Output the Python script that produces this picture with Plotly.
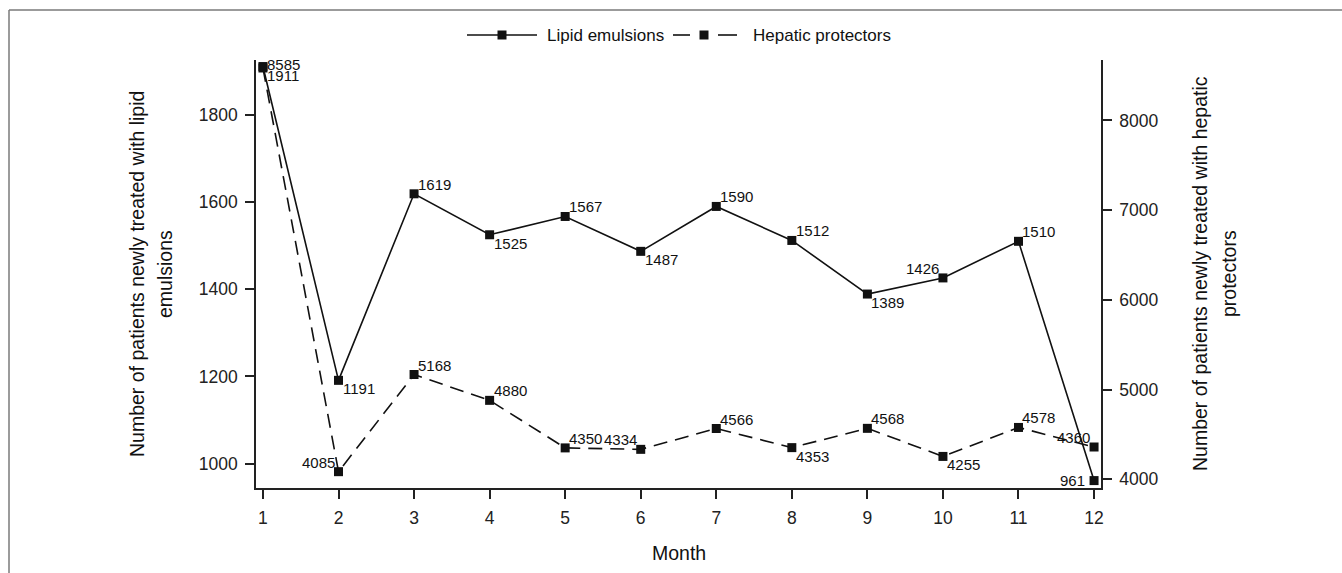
import plotly.graph_objects as go

months = list(range(1, 13))
lipid = [1911, 1191, 1619, 1525, 1567, 1487, 1590, 1512, 1389, 1426, 1510, 961]
hepatic = [8585, 4085, 5168, 4880, 4350, 4334, 4566, 4353, 4568, 4255, 4578, 4360]
series_names = ["Lipid emulsions", "Hepatic protectors"]

# label placement (style only)
lipid_pos = ["r", "br", "tr", "br", "tr", "br", "tr", "tr", "br", "tl", "tr", "l"]
hep_pos = ["tr", "tl", "tr", "tr", "tr", "tl", "tr", "br", "tr", "br", "tr", "tl"]

W, H = 1342, 573
L, R, T, B = 256, 1101, 60, 488
PW, PH = R - L, B - T
FONT = "Liberation Sans, Arial, sans-serif"
INK = "#111111"

def px(x):
    return (x - L) / PW

def py(y):
    return (B - y) / PH

fig = go.Figure()
fig.add_trace(go.Scatter(
    x=months, y=lipid, name=series_names[0], mode="lines+markers",
    line=dict(color=INK, width=1.6),
    marker=dict(symbol="square", size=9, color=INK),
    yaxis="y", showlegend=False))
fig.add_trace(go.Scatter(
    x=months, y=hepatic, name=series_names[1], mode="lines+markers",
    line=dict(color=INK, width=1.6, dash="14px,8px"),
    marker=dict(symbol="square", size=9, color=INK),
    yaxis="y2", showlegend=False))

anns = []
def add_labels(vals, poss, yref):
    for m, v, p in zip(months, vals, poss):
        a = dict(x=m, y=v, xref="x", yref=yref, text=str(v), showarrow=False,
                 font=dict(family=FONT, size=15, color=INK), borderpad=0)
        if p == "tr":
            a.update(xanchor="left", yanchor="bottom", xshift=3, yshift=0)
        elif p == "br":
            a.update(xanchor="left", yanchor="top", xshift=3, yshift=1)
        elif p == "tl":
            a.update(xanchor="right", yanchor="bottom", xshift=-3, yshift=0)
        elif p == "l":
            a.update(xanchor="right", yanchor="middle", xshift=-8, yshift=0)
        elif p == "r":
            a.update(xanchor="left", yanchor="middle", xshift=3, yshift=-9)
        anns.append(a)

add_labels(lipid, lipid_pos, "y")
add_labels(hepatic, hep_pos, "y2")
anns[12].update(yshift=-6)

title_font = dict(family=FONT, size=19.5, color=INK)
for txt, xpix in [("Number of patients newly treated with lipid", 137), ("emulsions", 165)]:
    anns.append(dict(x=px(xpix), y=0.5, xref="paper", yref="paper", text=txt,
                     textangle=-90, showarrow=False, font=title_font,
                     xanchor="center", yanchor="middle"))
for txt, xpix in [("Number of patients newly treated with hepatic", 1200), ("protectors", 1229)]:
    anns.append(dict(x=px(xpix), y=0.5, xref="paper", yref="paper", text=txt,
                     textangle=-90, showarrow=False, font=title_font,
                     xanchor="center", yanchor="middle"))
anns.append(dict(x=0.5, y=py(553), xref="paper", yref="paper", text="Month",
                 showarrow=False, font=title_font, xanchor="center", yanchor="middle"))

shapes = [
    dict(type="line", xref="paper", yref="paper", x0=px(9), x1=px(W), y0=py(10), y1=py(10),
         line=dict(color="#7a7a7a", width=1.5)),
    dict(type="line", xref="paper", yref="paper", x0=px(9), x1=px(9), y0=py(10), y1=py(H),
         line=dict(color="#7a7a7a", width=1.5)),
]

# custom legend (key samples + labels)
LY = 35
def seg(x0, x1):
    return dict(type="line", xref="paper", yref="paper", x0=px(x0), x1=px(x1),
                y0=py(LY), y1=py(LY), line=dict(color=INK, width=1.6))
def sq(xc):
    return dict(type="rect", xref="paper", yref="paper", x0=px(xc - 4.5), x1=px(xc + 4.5),
                y0=py(LY + 4.5), y1=py(LY - 4.5), line=dict(width=0), fillcolor=INK)
shapes += [seg(467, 537), sq(502)]
shapes += [seg(673, 690), seg(718, 737), sq(704)]
legend_font = dict(family=FONT, size=17, color=INK)
anns.append(dict(x=px(545), y=py(LY), xref="paper", yref="paper", text=series_names[0],
                 showarrow=False, font=legend_font, xanchor="left", yanchor="middle"))
anns.append(dict(x=px(751), y=py(LY), xref="paper", yref="paper", text=series_names[1],
                 showarrow=False, font=legend_font, xanchor="left", yanchor="middle"))

axis_common = dict(showgrid=False, zeroline=False, showline=True, linecolor="#222222",
                   linewidth=1.6, ticks="outside", ticklen=9, tickwidth=1.5,
                   tickcolor="#222222",
                   tickfont=dict(family=FONT, size=17.5, color="#222222"))

fig.update_layout(
    width=W, height=H,
    margin=dict(l=L, r=W - R, t=T, b=H - B),
    paper_bgcolor="white", plot_bgcolor="white",
    font=dict(family=FONT, color=INK),
    showlegend=False,
    xaxis=dict(range=[0.908, 12.092], tickmode="array", tickvals=months,
               ticktext=[str(m) for m in months], ticklabelstandoff=4, **axis_common),
    yaxis=dict(range=[944, 1926], tickmode="array", tickvals=[1000, 1200, 1400, 1600, 1800],
               side="left", ticklabelstandoff=4, **axis_common),
    yaxis2=dict(range=[3903, 8674], tickmode="array", tickvals=[4000, 5000, 6000, 7000, 8000],
                side="right", overlaying="y", ticklabelstandoff=4, **axis_common),
    annotations=anns,
    shapes=shapes,
)

fig.write_html("out.html")
